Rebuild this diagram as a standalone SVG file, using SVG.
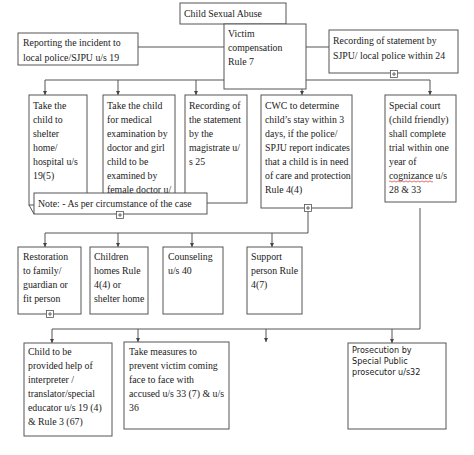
<svg xmlns="http://www.w3.org/2000/svg" width="474" height="455" viewBox="0 0 474 455">
<style>
.b{fill:#fff;stroke:#555;stroke-width:1}
.t{font-family:"Liberation Serif","Times New Roman",serif;font-size:9.8px;fill:#1a1a1a}
.s{font-family:"DejaVu Sans",Verdana,sans-serif;font-size:8.1px;fill:#1a1a1a}
.c{fill:none;stroke:#555;stroke-width:1}
.ic{fill:#fff;stroke:#555;stroke-width:0.8}
</style>
<defs>
<marker id="a" markerWidth="5" markerHeight="5" refX="2.5" refY="4.5" orient="auto" markerUnits="userSpaceOnUse" viewBox="0 0 5 5">
<path d="M0,1 L5,1 L2.5,5 Z" fill="#444" transform="rotate(-90 2.5 2.5)"/>
</marker>
<marker id="h" markerWidth="4" markerHeight="4" refX="4" refY="2" orient="auto" markerUnits="userSpaceOnUse">
<path d="M0,0 L4,2 L0,4 Z" fill="#444"/>
</marker>
<g id="plus">
<rect class="ic" x="-3.5" y="-3.5" width="7" height="7"/>
<path d="M-2,0 H2 M0,-2 V2" stroke="#444" stroke-width="0.8"/>
</g>
</defs>
<rect width="474" height="455" fill="#fff"/>

<g id="connectors">
<path class="c" d="M138,47 H224 M306,47 H329"/>
<path class="c" d="M45,80 H430"/>
<path class="c" d="M45,80 V95" marker-end="url(#h)"/>
<path class="c" d="M118,80 V95" marker-end="url(#h)"/>
<path class="c" d="M196,80 V95" marker-end="url(#h)"/>
<path class="c" d="M302,80 V95" marker-end="url(#h)"/>
<path class="c" d="M430,80 V95" marker-end="url(#h)"/>
<path class="c" d="M308,212 V233 H45"/>
<path class="c" d="M45,233 V247" marker-end="url(#h)"/>
<path class="c" d="M118,233 V247" marker-end="url(#h)"/>
<path class="c" d="M192,233 V247" marker-end="url(#h)"/>
<path class="c" d="M272,233 V247" marker-end="url(#h)"/>
<path class="c" d="M420,208 V329 H52"/>
<path class="c" d="M52,329 V343" marker-end="url(#h)"/>
<path class="c" d="M138,329 V342" marker-end="url(#h)"/>
<path class="c" d="M266,329 V342" marker-end="url(#h)"/>
<path class="c" d="M392,329 V343" marker-end="url(#h)"/>
</g>

<g id="n-abuse">
<rect class="b" x="180" y="3" width="106" height="21"/>
<text class="t" x="184" y="17">Child Sexual Abuse</text>
</g>
<g id="n-victim">
<rect class="b" x="224" y="24" width="82" height="65"/>
<text class="t" x="228" y="37">Victim</text>
<text class="t" x="228" y="51">compensation</text>
<text class="t" x="228" y="65">Rule 7</text>
</g>
<g id="n-report">
<rect class="b" x="18" y="33" width="120" height="32"/>
<text class="t" x="23" y="46">Reporting the incident to</text>
<text class="t" x="23" y="61">local police/SJPU u/s 19</text>
</g>
<g id="n-record">
<rect class="b" x="329" y="30" width="129" height="43"/>
<text class="t" x="333" y="44">Recording of statement by</text>
<text class="t" x="333" y="59">SJPU/ local police within 24</text>
<use href="#plus" x="394" y="74"/>
</g>

<g id="n-shelter">
<rect class="b" x="29" y="95" width="58" height="110"/>
<text class="t" x="33" y="109">Take the</text>
<text class="t" x="33" y="123">child to</text>
<text class="t" x="33" y="137">shelter</text>
<text class="t" x="33" y="151">home/</text>
<text class="t" x="33" y="165">hospital u/s</text>
<text class="t" x="33" y="179">19(5)</text>
</g>
<g id="n-medical">
<rect class="b" x="103" y="95" width="72" height="110"/>
<text class="t" x="107" y="109">Take the child</text>
<text class="t" x="107" y="123">for medical</text>
<text class="t" x="107" y="137">examination by</text>
<text class="t" x="107" y="151">doctor and girl</text>
<text class="t" x="107" y="165">child to be</text>
<text class="t" x="107" y="179">examined by</text>
<text class="t" x="107" y="193">female doctor u/</text>
</g>
<g id="n-magistrate">
<rect class="b" x="185" y="95" width="62" height="108"/>
<text class="t" x="189" y="109">Recording of</text>
<text class="t" x="189" y="123">the statement</text>
<text class="t" x="189" y="137">by the</text>
<text class="t" x="189" y="151">magistrate u/</text>
<text class="t" x="189" y="165">s 25</text>
</g>
<g id="n-note">
<rect class="b" x="34" y="193" width="173" height="21"/>
<path class="c" d="M29,205 L34,214"/>
<text class="t" x="38" y="207">Note: - As per circumstance of the case</text>
<use href="#plus" x="120" y="215"/>
</g>
<g id="n-cwc">
<rect class="b" x="261" y="95" width="91" height="113"/>
<text class="t" x="265" y="109">CWC to determine</text>
<text class="t" x="265" y="123">child’s stay within 3</text>
<text class="t" x="265" y="137">days, if the police/</text>
<text class="t" x="265" y="151">SPJU report indicates</text>
<text class="t" x="265" y="165">that a child is in need</text>
<text class="t" x="265" y="179">of care and protection</text>
<text class="t" x="265" y="193">Rule 4(4)</text>
<use href="#plus" x="308" y="208"/>
</g>
<g id="n-court">
<rect class="b" x="385" y="95" width="71" height="107"/>
<text class="t" x="389" y="109">Special court</text>
<text class="t" x="389" y="123">(child friendly)</text>
<text class="t" x="389" y="137">shall complete</text>
<text class="t" x="389" y="151">trial within one</text>
<text class="t" x="389" y="165">year of</text>
<text class="t" x="389" y="179">cognizance u/s</text>
<path d="M389,181.5 q1,-1.2 2,0 t2,0 t2,0 t2,0 t2,0 t2,0 t2,0 t2,0 t2,0 t2,0 t2,0 t2,0 t2,0 t2,0 t2,0 t2,0 t2,0 t2,0 t2,0 t2,0 t2,0 t2,0" fill="none" stroke="#d03030" stroke-width="0.7"/>
<text class="t" x="389" y="193">28 &amp; 33</text>
</g>

<g id="n-restore">
<rect class="b" x="18" y="247" width="63" height="67"/>
<text class="t" x="23" y="260">Restoration</text>
<text class="t" x="23" y="274">to family/</text>
<text class="t" x="23" y="288">guardian or</text>
<text class="t" x="23" y="302">fit person</text>
<use href="#plus" x="50" y="314"/>
</g>
<g id="n-homes">
<rect class="b" x="90" y="247" width="58" height="67"/>
<text class="t" x="94" y="260">Children</text>
<text class="t" x="94" y="274">homes Rule</text>
<text class="t" x="94" y="288">4(4) or</text>
<text class="t" x="94" y="302">shelter home</text>
</g>
<g id="n-counsel">
<rect class="b" x="163" y="247" width="60" height="67"/>
<text class="t" x="168" y="260">Counseling</text>
<text class="t" x="168" y="274">u/s 40</text>
</g>
<g id="n-support">
<rect class="b" x="247" y="247" width="55" height="67"/>
<text class="t" x="251" y="260">Support</text>
<text class="t" x="251" y="274">person Rule</text>
<text class="t" x="251" y="288">4(7)</text>
</g>

<g id="n-interpreter">
<rect class="b" x="24" y="343" width="88" height="93"/>
<text class="t" x="28" y="355">Child to be</text>
<text class="t" x="28" y="369">provided help of</text>
<text class="t" x="28" y="383">interpreter /</text>
<text class="t" x="28" y="397">translator/special</text>
<text class="t" x="28" y="411">educator u/s 19 (4)</text>
<text class="t" x="28" y="425">&amp; Rule 3 (67)</text>
</g>
<g id="n-measures">
<rect class="b" x="124" y="342" width="105" height="87"/>
<text class="t" x="129" y="355">Take measures to</text>
<text class="t" x="129" y="369">prevent victim coming</text>
<text class="t" x="129" y="383">face to face with</text>
<text class="t" x="129" y="397">accused u/s 33 (7) &amp; u/s</text>
<text class="t" x="129" y="411">36</text>
</g>
<g id="n-prosecution">
<rect class="b" x="348" y="343" width="98" height="86"/>
<text class="s" x="352" y="353">Prosecution by</text>
<text class="s" x="352" y="364">Special Public</text>
<text class="s" x="352" y="375">prosecutor u/s32</text>
</g>
</svg>
